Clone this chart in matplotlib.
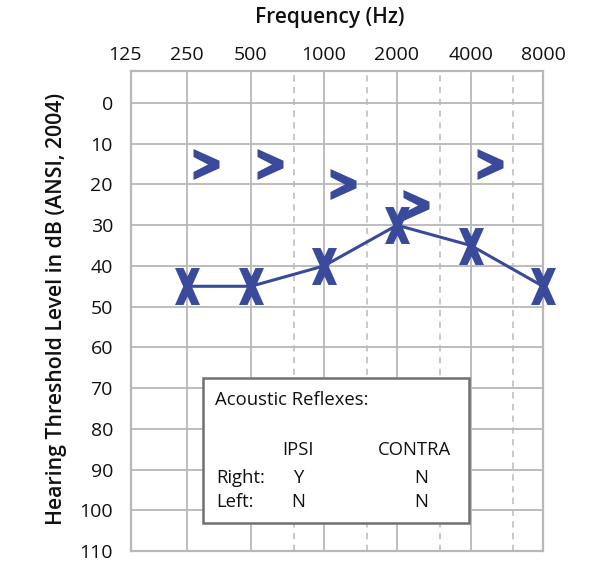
import numpy as np
import matplotlib
matplotlib.use("Agg")
import matplotlib.pyplot as plt
from matplotlib.path import Path
from matplotlib.patches import Rectangle
import matplotlib.transforms as mtransforms

plt.rcParams['font.family'] = ['Open Sans', 'DejaVu Sans']

# ---- data ----
freq_ticks = [125, 250, 500, 1000, 2000, 4000, 8000]
freq_labels = ["125", "250", "500", "1000", "2000", "4000", "8000"]
half_octaves = [750, 1500, 3000, 6000]
db_ticks = list(range(0, 111, 10))

air_freqs = [250, 500, 1000, 2000, 4000, 8000]
left_air = [45, 45, 40, 30, 35, 45]

bone_freqs = [250, 500, 1000, 2000, 4000]
left_bone = [15, 15, 20, 25, 15]

reflex_title = "Acoustic Reflexes:"
reflex_cols = ["IPSI", "CONTRA"]
reflex_rows = ["Right:", "Left:"]
reflex_ipsi = ["Y", "N"]
reflex_contra = ["N", "N"]

# ---- style ----
blue = '#3a4a9b'
grid_c = '#b8b8b8'

fig = plt.figure(figsize=(6, 5.73), dpi=100)
ax = fig.add_axes([131/600, 1-551/573, 412/600, 480/573])

# audiogram frequency axis (octave based, matching the printed form)
knot_f = np.log2(np.array(freq_ticks, dtype=float))
knot_p = np.array([131, 187, 251, 324, 397, 471, 543], dtype=float)

def fwd(x):
    x = np.asarray(x, dtype=float)
    return np.interp(np.log2(np.clip(x, 1e-6, None)), knot_f, knot_p)

def inv(p):
    p = np.asarray(p, dtype=float)
    return 2 ** np.interp(p, knot_p, knot_f)

ax.set_xscale('function', functions=(fwd, inv))
ax.set_xlim(125, 8000)
ax.set_ylim(110, -7.86)

ax.xaxis.tick_top()
ax.set_xticks(freq_ticks)
ax.set_xticklabels(freq_labels)
ax.set_xticks(half_octaves, minor=True)
ax.set_yticks(db_ticks)
ax.tick_params(axis='x', which='both', length=0, pad=5, labelsize=14, labelcolor='#111111')
ax.tick_params(axis='y', which='both', length=0, pad=13, labelsize=14, labelcolor='#111111')
ax.xaxis.set_minor_formatter(plt.NullFormatter())
first = ax.xaxis.get_major_ticks()[0].label2
first.set_transform(first.get_transform() +
                    mtransforms.ScaledTranslation(-6/100, 0, fig.dpi_scale_trans))

ax.grid(True, which='major', color=grid_c, lw=1.3)
ax.grid(True, which='minor', axis='x', color='#c4c4c4', lw=1.3, linestyle=(0, (3.5, 3)))
ax.set_axisbelow(True)
for s in ax.spines.values():
    s.set_color(grid_c)
    s.set_linewidth(1.6)

# markers
x_verts = [(-12.5, 18.5), (-4, 18.5), (0, 10), (4, 18.5), (12.5, 18.5), (4.3, 0),
           (12.5, -18.5), (4, -18.5), (0, -10), (-4, -18.5), (-12.5, -18.5), (-4.3, 0),
           (-12.5, 18.5)]
x_marker = Path(x_verts, closed=True)
chev_verts = [(-13, 15.5), (13, 3.8), (13, -3.8), (-13, -15.5), (-13, -7.5),
              (1.5, 0), (-13, 7.5), (-13, 15.5)]
chev_marker = Path(chev_verts, closed=True)

ax.plot(air_freqs, left_air, color=blue, lw=2.2, zorder=3, clip_on=False)
ax.plot(air_freqs, left_air, linestyle='none', marker=x_marker, markersize=26.6,
        markerfacecolor=blue, markeredgewidth=0, zorder=4, clip_on=False)

off = mtransforms.offset_copy(ax.transData, fig=fig, x=19, y=0, units='dots')
ax.plot(bone_freqs, left_bone, linestyle='none', marker=chev_marker, markersize=22.3,
        markerfacecolor=blue, markeredgewidth=0, zorder=4, transform=off, clip_on=False)

# acoustic reflex box
ax.add_patch(Rectangle((0.175, 0.058), 0.645, 0.302, transform=ax.transAxes,
                       facecolor='white', edgecolor='#707070', lw=1.8, zorder=5))
tk = dict(transform=ax.transAxes, fontsize=13.3, color='#111111', zorder=6, va='center')
ax.text(0.204, 0.315, reflex_title, ha='left', **tk)
col_x = [0.405, 0.689]
for cx, lab in zip(col_x, reflex_cols):
    ax.text(cx, 0.210, lab, ha='center', **tk)
row_y = [0.152, 0.102]
for ry, rl, ip, co in zip(row_y, reflex_rows, reflex_ipsi, reflex_contra):
    ax.text(0.206, ry, rl, ha='left', **tk)
    ax.text(0.405, ry, ip, ha='center', **tk)
    ax.text(0.704, ry, co, ha='center', **tk)

fig.text(330/600, 1-17/573, "Frequency (Hz)", ha='center', va='center',
         fontsize=15, fontweight='semibold', color='#111111')
fig.text(57/600, 1-309/573, "Hearing Threshold Level in dB (ANSI, 2004)",
         rotation=90, ha='center', va='center', fontsize=15.3,
         fontweight='semibold', color='#111111')

fig.savefig('out.png', dpi=100)
